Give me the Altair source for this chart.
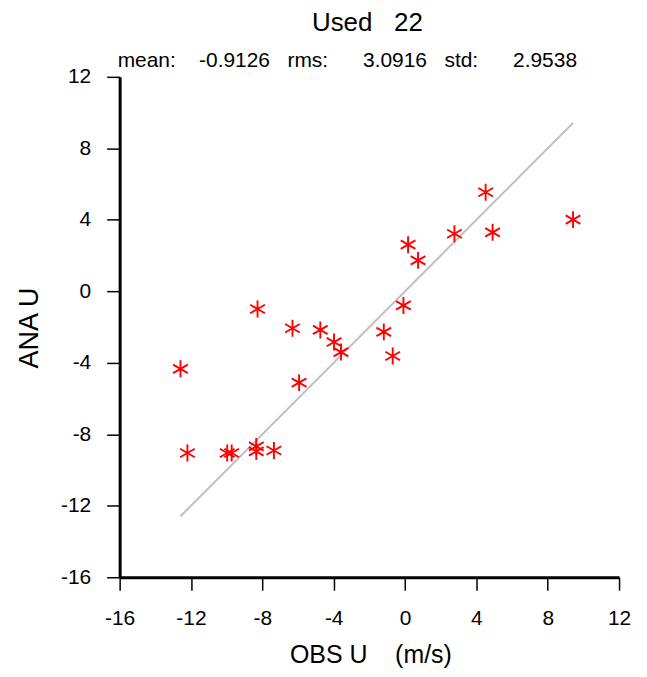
import altair as alt
import pandas as pd

# values
obs = [9.42, 4.52, 4.91, 2.77, 0.17, 0.73, -0.09, -1.19, -0.69, -3.98, -3.59,
       -4.75, -6.31, -5.94, -8.27, -12.59, -12.20, -9.97, -9.72, -8.34, -8.34, -7.35]
ana = [4.01, 5.54, 3.30, 3.22, 2.61, 1.73, -0.79, -2.27, -3.62, -2.84, -3.40,
       -2.16, -2.07, -5.11, -0.99, -4.34, -9.05, -9.05, -9.05, -8.68, -8.96, -8.91]
tick_values = [-16, -12, -8, -4, 0, 4, 8, 12]
axis_domain = [-16, 12]

NB = "\u00a0"
title_text = "Used" + NB * 3 + "22"
stats_text = ("mean:" + NB * 4 + "-0.9126" + NB * 3 + "rms:" + NB * 6 + "3.0916"
              + NB * 3 + "std:" + NB * 6 + "2.9538")
x_title = "OBS U" + NB * 4 + "(m/s)"
y_title = "ANA U"

FONT = "Liberation Sans"

pts = pd.DataFrame({"obs": obs, "ana": ana})
line_df = pd.DataFrame({"obs": [min(obs), max(obs)], "ana": [min(obs), max(obs)]})

common_axis = dict(values=tick_values, grid=False, tickSize=13, tickWidth=1.5,
                   tickColor="black", domainWidth=3, domainColor="black",
                   labelFontSize=21, labelFont=FONT, labelColor="black",
                   labelExpr="'' + datum.value", labelOverlap=False,
                   titleFont=FONT, titleColor="black", titleFontWeight="normal")

xenc = alt.X("obs:Q", scale=alt.Scale(domain=axis_domain, nice=False, zero=False),
             axis=alt.Axis(title=x_title, labelFlush=False, labelPadding=17,
                           titleFontSize=25, titleX=251.5, titleY=86,
                           titleAlign="center", titleBaseline="alphabetic",
                           **common_axis))
yenc = alt.Y("ana:Q", scale=alt.Scale(domain=axis_domain, nice=False, zero=False),
             axis=alt.Axis(title=y_title, labelFlush=False, labelPadding=16,
                           titleFontSize=27, titleX=-82.7, titleY=251.5,
                           titleAngle=270, titleAlign="center",
                           titleBaseline="alphabetic", **common_axis))

line = alt.Chart(line_df).mark_line(color="#bfbfbf", strokeWidth=2).encode(
    x=xenc, y=yenc)

star = "M0,-1L0,1M-0.866,-0.5L0.866,0.5M-0.866,0.5L0.866,-0.5"
points = alt.Chart(pts).mark_point(shape=star, filled=False, stroke="#ff0000",
                                   strokeWidth=1.9, size=290, opacity=1).encode(
    x=xenc, y=yenc)

title_mark = alt.Chart(pd.DataFrame({"t": [title_text]})).mark_text(
    font=FONT, fontSize=26, align="center", baseline="alphabetic", color="black"
).encode(x=alt.value(248.5), y=alt.value(-46), text="t:N")

stats_mark = alt.Chart(pd.DataFrame({"t": [stats_text]})).mark_text(
    font=FONT, fontSize=21, align="left", baseline="alphabetic", color="black"
).encode(x=alt.value(-2), y=alt.value(-9.5), text="t:N")

chart = alt.layer(line, points, title_mark, stats_mark).properties(
    width=501, height=502,
    autosize=alt.AutoSizeParams(type="none"),
    padding={"left": 112, "top": 68, "right": 20, "bottom": 95},
).configure_view(strokeWidth=0)

chart.save("out.html", embed_options={"renderer": "svg", "actions": False})
